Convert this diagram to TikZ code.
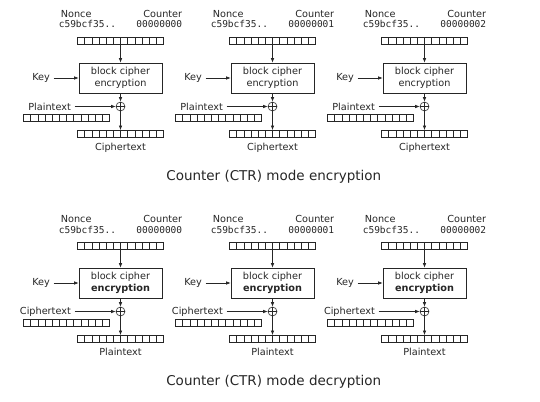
\documentclass[tikz,border=0pt]{standalone}
\usepackage{fontspec}
\setmainfont{DejaVu Sans}
\setmonofont{DejaVu Sans Mono}
\usetikzlibrary{arrows.meta}

\begin{document}
\begin{tikzpicture}[x=1pt,y=-1pt,line width=0.6pt,color=black!85,
every node/.append style={font=\fontsize{9.7}{12}\selectfont},
hexnum/.style={font=\ttfamily\fontsize{9.5}{12}\selectfont},
reg/.style={draw, minimum width=86pt, minimum height=7.3pt, inner sep=0pt,
  path picture={\foreach \k in {1,...,11}
    \draw ([xshift=\k*7.1667pt]path picture bounding box.south west) -- ([xshift=\k*7.1667pt]path picture bounding box.north west);}},
cipherbox/.style={draw, minimum width=83pt, minimum height=30pt, align=center, inner sep=2pt},
xor/.style={circle, draw, minimum size=9pt, inner sep=0pt,
  path picture={\draw (path picture bounding box.north) -- (path picture bounding box.south)
    (path picture bounding box.west) -- (path picture bounding box.east);}},
arr/.style={-{Latex[length=4.5pt,width=3.5pt]}},
caption/.style={font=\fontsize{13.5}{16}\selectfont}
]
\useasboundingbox (0,0) rectangle (540,401);

% e = encryption (top), d = decryption (bottom)
\foreach \h/\dy/\inl/\outl/\wt/\md in {e/0/Plaintext/Ciphertext/\mdseries/encryption,
                                       d/205/Ciphertext/Plaintext/\bfseries/decryption} {
  \foreach \n/\c/\ctr in {0/120.5/00000000, 1/272.5/00000001, 2/424.5/00000002} {
    \begin{scope}[shift={(\c,\dy)}]
      \node [anchor=base west] (nonce\h\n) at (-63.3,17.5) {Nonce};
      \node [anchor=base east] (count\h\n) at (65.3,17.5) {Counter};
      \node [hexnum,anchor=base west] (nval\h\n) at (-65.3,28) {c59bcf35..};
      \node [hexnum,anchor=base east] (cval\h\n) at (65.3,28) {\ctr};
      \node [reg] (top\h\n) at (0,40.5) {};
      \node [cipherbox] (box\h\n) at (0,78) {block cipher\\{\wt encryption}};
      \node [anchor=east] (key\h\n) at (-67,78) {Key};
      \node [xor] (xor\h\n) at (0,106.5) {};
      \node [anchor=east] (in\h\n) at (-46,106.5) {\inl};
      \node [reg] (inreg\h\n) at (-54,117.5) {};
      \node [reg] (out\h\n) at (0,134) {};
      \node [anchor=base] (outl\h\n) at (0,150) {\outl};
      \draw [arr] (top\h\n) -- (box\h\n);
      \draw [arr] (key\h\n) -- (box\h\n);
      \draw [arr] (box\h\n) -- (xor\h\n);
      \draw [arr] (in\h\n) -- (xor\h\n);
      \draw [arr] (xor\h\n) -- (out\h\n);
    \end{scope}
  }
  \node [caption,anchor=base] (cap\h) at (273.8,180+\dy) {Counter (CTR) mode \md};
}
\end{tikzpicture}
\end{document}
